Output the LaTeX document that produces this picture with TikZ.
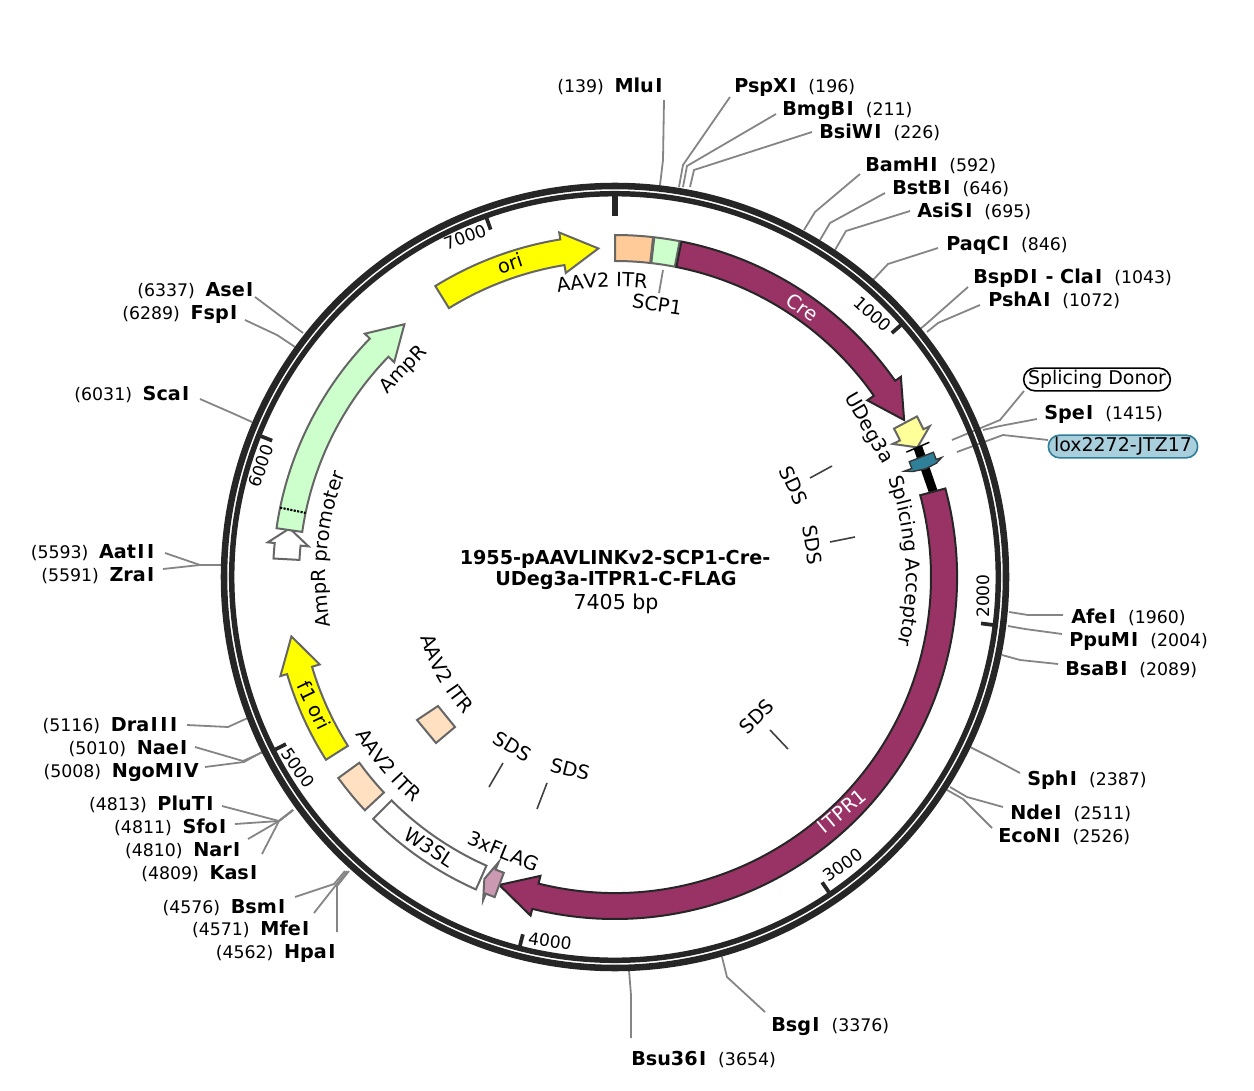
\documentclass[tikz,border=0pt]{standalone}
\usepackage{fontspec}
\usetikzlibrary{decorations.text}
\setmainfont{DejaVu Sans}
\definecolor{ringc}{HTML}{262626}
\definecolor{leadc}{HTML}{858585}
\definecolor{purp}{HTML}{993366}
\definecolor{peach}{HTML}{FFCC99}
\definecolor{peachl}{HTML}{FFE0C0}
\definecolor{mint}{HTML}{CCFFCC}
\definecolor{paley}{HTML}{FFFF99}
\definecolor{yelw}{HTML}{FFFF00}
\definecolor{flagc}{HTML}{CC99B3}
\definecolor{teal2}{HTML}{2F7F99}
\definecolor{loxc}{HTML}{A9CFDC}
\tikzset{
  leader/.style={draw=leadc,line width=1.35pt},
  ringl/.style={draw=ringc},
  ticka/.style={draw=ringc,line width=2.8pt},
  feat/.style={line width=1.5pt,draw=#1},
  feat/.default={black!60},
  lab/.style={font=\lfont,inner sep=0pt,text height=11pt,text depth=1.5pt},
  ticklab/.style={font=\fontsize{12.8pt}{14pt}\selectfont,inner sep=0pt},
  enz/.style={font=\fontsize{14.4pt}{16pt}\selectfont,inner sep=0pt,text height=11pt,text depth=0pt},
  sdsl/.style={draw=black!75,line width=1.2pt},
}
\newcommand{\lfont}{\fontsize{14.6pt}{16pt}\selectfont}
\newcommand{\vI}{\kern.07em I\kern.07em\relax}
\newcommand{\enzn}[1]{\textbf{#1}}
\newcommand{\numb}[1]{{\fontsize{13pt}{14pt}\selectfont (#1)}}
\newcommand{\renz}[5]{\node[enz,anchor=west] (#1) at (#2,-#3) {\enzn{#4}\hspace{8pt}\numb{#5}};}
\newcommand{\lenz}[5]{\node[enz,anchor=east] (#1) at (#2,-#3) {\numb{#5}\hspace{8pt}\enzn{#4}};}
\newcommand{\ldr}[4]{\coordinate (#1s) at (#2); \coordinate (#1e) at (#3); \coordinate (#1f) at (#4); \draw[leader] (#1s) -- (#1e) -- (#1f);}
\newcommand{\farrow}[4]{\draw[#1,line join=miter] ({90-#2}:342) arc[start angle={90-#2},end angle={90-#3},radius=342] -- ({90-#3}:349) -- ({90-#4}:329) -- ({90-#3}:308) -- ({90-#3}:316) arc[start angle={90-#3},end angle={90-#2},radius=316] -- cycle;}
\newcommand{\fseg}[3]{\draw[#1] ({90-#2}:342) arc[start angle={90-#2},end angle={90-#3},radius=342] -- ({90-#3}:316) arc[start angle={90-#3},end angle={90-#2},radius=316] -- cycle;}
\newcommand{\cwtext}[3]{\path[decorate,decoration={text along path,text={|\lfont|#1},text align=center}] ({90-(#3)+60}:#2) arc[start angle={90-(#3)+60},end angle={90-(#3)-60},radius=#2];}
\newcommand{\ccwtext}[3]{\path[decorate,decoration={text along path,text={|\lfont|#1},text align=center}] ({90-(#3)-60}:#2) arc[start angle={90-(#3)-60},end angle={90-(#3)+60},radius=#2];}
\begin{document}
\begin{tikzpicture}[x=0.75pt,y=0.75pt]
\useasboundingbox (0,0) rectangle (1254,-1091);
% leaders
\ldr{mlu}{660,-185}{663,-160}{664,-100}
\ldr{psp}{679,-187}{683,-165}{730,-97}
\ldr{bmg}{683,-187}{687,-166}{776,-114}
\ldr{bsi}{690,-187}{694,-170}{812,-132}
\ldr{bam}{804,-230}{815,-212}{860,-174}
\ldr{bst}{820,-240}{830,-223}{885,-193}
\ldr{asi}{835,-250}{846,-231}{910,-211}
\ldr{paq}{873,-280}{888,-264}{938,-248}
\ldr{bsp}{920,-329}{925,-325}{968,-287}
\ldr{psh}{927,-332}{938,-323}{980,-305}
\ldr{don}{952,-440}{1000,-420}{1024,-391}
\ldr{spe}{983,-430}{1000,-426}{1037,-419}
\ldr{lox}{957,-452}{1003,-435}{1048,-440}
\ldr{afe}{1009,-612}{1028,-615}{1063,-615}
\ldr{ppu}{1008,-626}{1025,-629}{1062,-634}
\ldr{bsa}{1002,-655}{1020,-660}{1058,-664}
\ldr{sph}{970,-747}{990,-757}{1020,-773}
\ldr{nde}{950,-787}{967,-797}{1003,-807}
\ldr{eco}{947,-790}{963,-799}{992,-828}
\ldr{bsg}{722,-957}{727,-977}{765,-1012}
\ldr{bsu}{629,-970}{631,-995}{631,-1038}
\ldr{hpa}{349,-871}{337,-886}{337,-932}
\ldr{mfe}{347,-871}{336,-885}{314,-913}
\ldr{bsm}{345,-871}{334,-884}{295,-897}
\ldr{kas}{293,-810}{279,-821}{262,-854}
\ldr{nar}{293,-810}{279,-821}{248,-839}
\ldr{sfo}{293,-810}{279,-821}{235,-824}
\ldr{plu}{293,-810}{279,-821}{222,-806}
\ldr{ngo}{262,-752}{244,-762}{205,-767}
\ldr{nae}{263,-752}{243,-761}{195,-747}
\ldr{dra}{250,-717}{228,-727}{187,-725}
\ldr{zra}{222,-565}{200,-565}{163,-569}
\ldr{aat}{222,-565}{200,-565}{165,-553}
\ldr{sca}{252,-422}{232,-413}{200,-399}
\ldr{fsp}{295,-347}{277,-335}{245,-320}
\ldr{ase}{303,-333}{283,-318}{255,-297}
% backbone
\begin{scope}[shift={(615,-577)}]
\draw[ringl,line width=4.9pt] (0,0) circle[radius=391];
\draw[ringl,line width=4.1pt] (0,0) circle[radius=383.3];
\draw[draw=ringc,line width=4pt] (90:361) -- (90:381);
\foreach \b in {1000,2000,...,7000}{
  \draw[ticka] ({90-\b/7405*360}:369) -- ({90-\b/7405*360}:381);
}
% features
\farrow{feat,fill=yelw}{-31.7}{-9.2}{-2.9}
\fseg{feat,fill=peach}{0}{6.4}
\fseg{feat,fill=mint}{6.6}{10.9}
\farrow{feat=black!85,fill=purp}{11.2}{55}{61.5}
\farrow{feat,fill=paley}{62}{64.4}{66.8}
\fill[black] ({90-66.8}:325) -- ({90-66.8}:334) -- ({90-75}:334) -- ({90-75}:325) -- cycle;
\draw[black,line width=1.1pt] ({90-66.8}:317) -- ({90-66.8}:342);
\draw[draw=black!80,line width=1pt,fill=teal2] ({90-68.6}:342) -- ({90-69.9}:342) -- ({90-69.9}:348) -- ({90-70.5}:341) -- ({90-70.8}:329) -- ({90-70.5}:316) -- ({90-69.9}:308) -- ({90-69.9}:316) -- ({90-68.6}:316) -- cycle;
\farrow{feat=black!85,fill=purp}{75}{194}{200.6}
\farrow{feat,fill=flagc}{200.6}{202.2}{203.4}
\fseg{feat,fill=white}{204.0}{225}
\fseg{feat,fill=peachl}{227}{234}
\farrow{feat,fill=yelw}{237.7}{253.5}{259.6}
\farrow{feat,fill=white}{273.1}{275.7}{278.5}
\farrow{feat,fill=mint}{278.2}{314.2}{320.2}
\draw[black,line width=1.6pt,densely dotted] ({90-281.7}:342) -- ({90-281.7}:316);
\end{scope}
% free AAV2 ITR square
\draw[feat,fill=peachl] (438,-706) -- (455,-727) -- (436,-743) -- (417,-720) -- cycle;
% sds lines
\coordinate (s1a) at (832,-466); \coordinate (s1b) at (810,-478); \draw[sdsl] (s1a) -- (s1b);
\coordinate (s2a) at (855,-537); \coordinate (s2b) at (830,-542); \draw[sdsl] (s2a) -- (s2b);
\coordinate (s3a) at (788,-749); \coordinate (s3b) at (770,-730); \draw[sdsl] (s3a) -- (s3b);
\coordinate (s4a) at (503,-763); \coordinate (s4b) at (489,-787); \draw[sdsl] (s4a) -- (s4b);
\coordinate (s5a) at (547,-783); \coordinate (s5b) at (537,-809); \draw[sdsl] (s5a) -- (s5b);
\coordinate (scpa) at (663,-270); \coordinate (scpb) at (659,-293); \draw[leader] (scpa) -- (scpb);
% feature labels
\begin{scope}[shift={(615,-577)}]
\cwtext{AAV2 ITR}{290}{-2.5}
\cwtext{Splicing Acceptor}{291}{86.8}
\cwtext{AmpR promoter}{289}{275.5}
\ccwtext{AAV2 ITR}{204}{240.2}
\ccwtext{AAV2 ITR}{303}{230.3}
\end{scope}
\node[lab,rotate=-8.5] (t2) at (657,-305) {SCP1};
\node[lab,rotate=-36,text=white] (t3) at (802,-308) {Cre};
\node[lab,rotate=18.5] (t4) at (510,-264) {ori};
\node[lab,rotate=-60] (t5) at (869,-428) {UDeg3a};
\node[lab,rotate=-65] (t7) at (793,-486) {SDS};
\node[lab,rotate=-81] (t8) at (812,-545) {SDS};
\node[lab,rotate=44] (t9) at (757,-717) {SDS};
\node[lab,rotate=-31] (t10) at (512,-747) {SDS};
\node[lab,rotate=-14] (t11) at (570,-770) {SDS};
\node[lab,rotate=-33] (t14) at (429,-848) {W3SL};
\node[lab,rotate=-22] (t15) at (503,-852) {3xFLAG};
\node[lab,rotate=-64] (t16) at (313,-706) {f1 ori};
\node[lab,rotate=40,text=white] (t17) at (842,-812) {\vI TPR1};
\node[lab,rotate=46] (t18) at (403,-369) {AmpR};
% tick labels
\node[ticklab,rotate=-42] (k1) at (873,-314) {1000};
\node[ticklab,rotate=90] (k2) at (983,-596) {2000};
\node[ticklab,rotate=35] (k3) at (843,-865) {3000};
\node[ticklab,rotate=-8] (k4) at (550,-941) {4000};
\node[ticklab,rotate=-55] (k5) at (298,-768) {5000};
\node[ticklab,rotate=70] (k6) at (261,-466) {6000};
\node[ticklab,rotate=20] (k7) at (465,-237) {7000};
% centre
\node[enz,font=\fontsize{14.4pt}{16pt}\selectfont\bfseries] (c1) at (615,-557) {1955-pAAVLINKv2-SCP1-Cre-};
\node[enz,font=\fontsize{14.4pt}{16pt}\selectfont\bfseries] (c2) at (616,-578) {UDeg3a-ITPR1-C-FLAG};
\node[enz,font=\fontsize{15.4pt}{16pt}\selectfont] (c3) at (616,-602) {7405 bp};
% enzyme labels
\node[enz,anchor=east] (MluI) at (664,-85) {\numb{139}\hspace{8pt}\enzn{Mlu\vI}};
\renz{PspXI}{734}{85}{PspX\vI}{196}
\renz{BmgBI}{782}{108}{BmgB\vI}{211}
\renz{BsiWI}{819}{131}{BsiW\vI}{226}
\renz{BamHI}{865}{164}{BamH\vI}{592}
\renz{BstBI}{892}{187}{BstB\vI}{646}
\renz{AsiSI}{917}{210}{AsiS\vI}{695}
\renz{PaqCI}{946}{243}{PaqC\vI}{846}
\renz{BspDI}{973}{276}{BspD\vI{} - Cla\vI}{1043}
\renz{PshAI}{988}{299}{PshA\vI}{1072}
\renz{SpeI}{1044}{412}{Spe\vI}{1415}
\renz{AfeI}{1071}{616}{Afe\vI}{1960}
\renz{PpuMI}{1069}{639}{PpuM\vI}{2004}
\renz{BsaBI}{1065}{668}{BsaB\vI}{2089}
\renz{SphI}{1027}{778}{Sph\vI}{2387}
\renz{NdeI}{1010}{812}{Nde\vI}{2511}
\renz{EcoNI}{998}{835}{EcoN\vI}{2526}
\renz{BsgI}{771}{1024}{Bsg\vI}{3376}
\renz{Bsu}{631}{1058}{Bsu36\vI}{3654}
\lenz{HpaI}{337}{951}{Hpa\vI}{4562}
\lenz{MfeI}{311}{928}{Mfe\vI}{4571}
\lenz{BsmI}{287}{906}{Bsm\vI}{4576}
\lenz{KasI}{259}{872}{Kas\vI}{4809}
\lenz{NarI}{242}{849}{Nar\vI}{4810}
\lenz{SfoI}{228}{826}{Sfo\vI}{4811}
\lenz{PluTI}{215}{803}{PluT\vI}{4813}
\lenz{Ngo}{199}{770}{NgoM\vI V}{5008}
\lenz{NaeI}{189}{747}{Nae\vI}{5010}
\lenz{DraIII}{179}{724}{Dra\vI\vI\vI}{5116}
\lenz{ZraI}{156}{574}{Zra\vI}{5591}
\lenz{AatII}{156}{551}{Aat\vI\vI}{5593}
\lenz{ScaI}{191}{393}{Sca\vI}{6031}
\lenz{FspI}{239}{312}{Fsp\vI}{6289}
\lenz{AseI}{255}{289}{Ase\vI}{6337}
% pills
\node[draw=black,fill=white,line width=1.2pt,rounded corners=8.5pt,minimum width=110pt,minimum height=17pt,inner sep=0pt,font=\fontsize{14.2pt}{16pt}\selectfont] (SD) at (1097,-379.5) {Splicing Donor};
\node[draw=teal2,fill=loxc,line width=1.2pt,rounded corners=8.5pt,minimum width=112pt,minimum height=17pt,inner sep=0pt,font=\fontsize{14.2pt}{16pt}\selectfont] (LX) at (1123,-446.5) {lox2272-JTZ17};
\end{tikzpicture}
\end{document}
